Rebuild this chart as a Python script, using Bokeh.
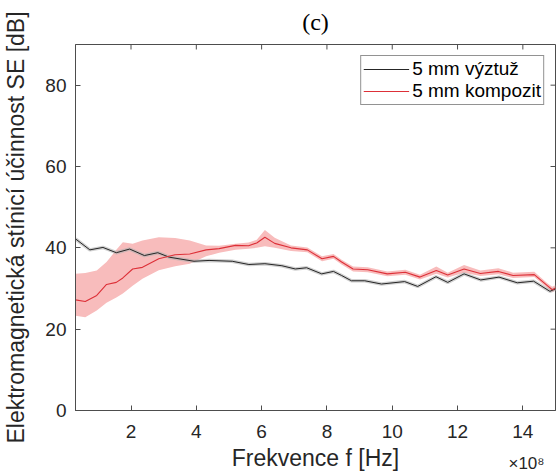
from bokeh.plotting import figure
from bokeh.models import Range1d, FixedTicker, Legend, LegendItem, ColumnDataSource, Title
from bokeh.embed import file_html
from bokeh.resources import INLINE

# ---- data (frequency in units of 1e8 Hz, SE in dB) ----
x_ticks = [2, 4, 6, 8, 10, 12, 14]
y_ticks = [0, 20, 40, 60, 80]

black_f = [0.3, 0.74, 1.14, 1.55, 1.96, 2.41, 2.82, 3.17, 3.93, 4.39, 5.1, 5.61, 6.1, 6.62,
           7.03, 7.38, 7.84, 8.2, 8.45, 8.75, 9.16, 9.67, 10.38, 10.78, 11.34, 11.7, 12.2,
           12.71, 13.27, 13.83, 14.33, 14.83, 15.0]
black_se = [42.2, 39.5, 40.1, 38.8, 39.7, 38.1, 38.8, 37.7, 36.7, 36.9, 36.7, 35.9, 36.1, 35.6,
            34.8, 35.1, 33.6, 34.2, 33.2, 31.9, 31.9, 31.1, 31.7, 30.5, 32.9, 31.5, 33.6,
            32.1, 32.8, 31.4, 31.8, 29.3, 29.9]

red_f = [0.3, 0.6, 0.95, 1.25, 1.55, 1.75, 2.05, 2.35, 2.85, 3.35, 3.8, 4.3, 4.7, 5.2, 5.6,
         5.85, 6.1, 6.4, 6.9, 7.4, 7.85, 8.2, 8.45, 8.8, 9.25, 9.85, 10.4, 10.85, 11.35, 11.7,
         12.2, 12.7, 13.25, 13.7, 14.35, 14.75, 14.9, 15.0]
red_se = [27.2, 26.8, 28.3, 31.0, 31.5, 32.6, 34.8, 35.2, 37.3, 38.3, 38.5, 39.5, 39.8, 40.6, 40.5,
          41.2, 42.6, 41.1, 40.0, 39.5, 37.3, 37.9, 36.5, 34.8, 34.6, 33.6, 34.0, 32.8, 34.4, 33.3,
          34.8, 33.7, 34.2, 33.2, 33.4, 30.7, 29.7, 30.1]
red_upper = [33.6, 33.8, 34.4, 36.5, 39.5, 41.4, 41.0, 41.8, 42.6, 42.4, 41.8, 40.6, 40.5, 41.0, 41.3,
             42.0, 44.4, 42.5, 40.6, 40.1, 37.9, 38.5, 37.1, 35.4, 35.2, 34.2, 34.6, 33.4, 35.4, 33.9,
             35.8, 34.4, 35.0, 33.9, 34.1, 31.3, 30.4, 30.8]
red_lower = [23.3, 22.9, 24.6, 26.5, 27.8, 28.8, 30.7, 32.4, 34.5, 35.5, 36.1, 37.9, 38.8, 39.5, 39.8,
             40.0, 40.4, 40.0, 39.2, 38.9, 36.7, 37.3, 35.9, 34.2, 34.0, 33.0, 33.4, 32.2, 33.6, 32.7,
             33.9, 33.1, 33.5, 32.6, 32.8, 30.1, 29.1, 29.5]

labels = ["5 mm výztuž", "5 mm kompozit"]
x_min, x_max, y_min, y_max = 0.3, 15.0, 0, 90

# ---- figure ----
FONT = "Liberation Sans"
AX = "#4d4d4d"
TXT = "#262626"

p = figure(width=556, height=475, output_backend="svg", toolbar_location=None,
           x_range=Range1d(x_min, x_max), y_range=Range1d(y_min, y_max),
           min_border_left=72, min_border_right=1, min_border_top=44, min_border_bottom=65)
p.grid.visible = False
p.outline_line_color = AX
p.background_fill_color = "white"

p.add_layout(Title(text="(c)", align="center", vertical_align="top", text_font="Liberation Serif",
                   text_font_size="24px", text_font_style="normal", text_color="black",
                   standoff=15), "above")

red_src = ColumnDataSource(dict(f=red_f, se=red_se, up=red_upper, lo=red_lower))
black_src = ColumnDataSource(dict(f=black_f, se=black_se))

p.varea(x="f", y1="lo", y2="up", source=red_src, fill_color="#f8bcbc", fill_alpha=1)
p.line(x="f", y="se", source=black_src, line_color="#b0b0b0", line_width=3.5, line_alpha=0.6)
r_black = p.line(x="f", y="se", source=black_src, line_color="#262626", line_width=1)
r_red = p.line(x="f", y="se", source=red_src, line_color="#dd3038", line_width=1.1)

p.xaxis.ticker = FixedTicker(ticks=x_ticks)
p.yaxis.ticker = FixedTicker(ticks=y_ticks)
p.xaxis.axis_label = "Frekvence f [Hz]"
p.yaxis.axis_label = "Elektromagnetická stínicí účinnost SE [dB]"

for ax in (p.xaxis[0], p.yaxis[0]):
    ax.axis_line_color = AX
    ax.major_tick_line_color = AX
    ax.major_tick_in = 5
    ax.major_tick_out = 0
    ax.minor_tick_line_color = None
    ax.major_label_text_font = FONT
    ax.major_label_text_font_size = "19px"
    ax.major_label_text_color = TXT
    ax.axis_label_text_font = FONT
    ax.axis_label_text_font_size = "23px"
    ax.axis_label_text_font_style = "normal"
    ax.axis_label_text_color = TXT

p.xaxis.major_label_standoff = 14
p.xaxis.axis_label_standoff = 4
p.yaxis.major_label_standoff = 9
p.yaxis.axis_label_standoff = 13

# exponent of the x axis, pulled up beside the axis title
p.add_layout(Title(text="×10⁸", align="right", vertical_align="top", offset=11,
                   text_font=FONT, text_font_size="17px", text_font_style="normal",
                   text_color=TXT, standoff=-39), "below")

# inward ticks on the top and right edges of the box
tick_dx = 5 / 32.86
tick_dy = 5 / 4.0667
p.segment(x0=x_ticks, y0=[y_max] * len(x_ticks), x1=x_ticks, y1=[y_max - tick_dy] * len(x_ticks),
          line_color=AX, line_width=1)
p.segment(x0=[x_max] * len(y_ticks), y0=y_ticks, x1=[x_max - tick_dx] * len(y_ticks), y1=y_ticks,
          line_color=AX, line_width=1)

legend = Legend(items=[LegendItem(label=labels[0], renderers=[r_black]),
                       LegendItem(label=labels[1], renderers=[r_red])],
                location="top_right", margin=11, padding=2, spacing=-4,
                label_text_font=FONT, label_text_font_size="19px", label_text_color="black",
                glyph_width=46, glyph_height=18, label_height=18, label_standoff=3,
                border_line_color="#262626", border_line_width=1, background_fill_alpha=1)
p.add_layout(legend)

open("out.html", "w").write(file_html(p, INLINE))
